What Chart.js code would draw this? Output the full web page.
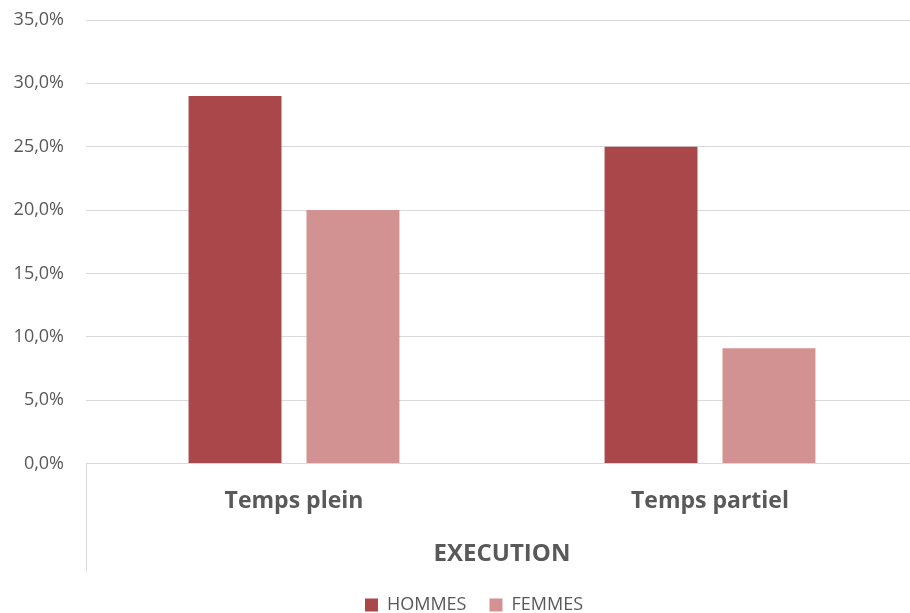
<!DOCTYPE html>
<html>
<head>
<meta charset="utf-8">
<script src="https://cdn.jsdelivr.net/npm/chart.js@4/dist/chart.umd.min.js"></script>
<style>
  html, body { margin: 0; padding: 0; background: #fff; overflow: hidden; }
  .wrap { width: 910px; height: 613px; overflow: hidden; }
  .chart-container { width: 948px; height: 624px; }
</style>
</head>
<body>
<div class="wrap">
  <div class="chart-container">
    <canvas id="chart"></canvas>
  </div>
</div>
<script>
const categories = ['Temps plein', 'Temps partiel'];
const hommes = [29.0, 25.0];
const femmes = [20.0, 9.1];
const groupLabel = 'EXECUTION';
const yMin = 0, yMax = 35, yStep = 5;

const gridColor = '#D9D9D9';
const textColor = '#595959';
const font = '"Open Sans", "Liberation Sans", sans-serif';

// left border of the category axis, below the plot (multi-level axis look)
const axisLeftLine = {
  id: 'axisLeftLine',
  afterDraw(chart) {
    const { ctx, chartArea } = chart;
    ctx.save();
    ctx.strokeStyle = gridColor;
    ctx.lineWidth = 1;
    ctx.beginPath();
    ctx.moveTo(chartArea.left + 0.5, chartArea.bottom);
    ctx.lineTo(chartArea.left + 0.5, chartArea.bottom + 108);
    ctx.stroke();
    ctx.restore();
  }
};

// legend sits centred on the whole (uncropped) chart, not the plot
const legendShift = {
  id: 'legendShift',
  afterLayout(chart) {
    chart.legend.left += 15;
    chart.legend.right += 15;
  }
};

const ctx = document.getElementById('chart').getContext('2d');
new Chart(ctx, {
  type: 'bar',
  data: {
    labels: categories,
    datasets: [
      { label: 'HOMMES', data: hommes, backgroundColor: '#A9474A' },
      { label: 'FEMMES', data: femmes, backgroundColor: '#D39292' }
    ]
  },
  options: {
    responsive: true,
    maintainAspectRatio: false,
    animation: false,
    layout: { padding: { top: 20, right: 30, left: 0, bottom: 0 } },
    datasets: { bar: { categoryPercentage: 0.567, barPercentage: 0.788 } },
    plugins: {
      tooltip: { enabled: false },
      legend: {
        position: 'bottom',
        labels: {
          boxWidth: 13, boxHeight: 13, padding: 23,
          color: textColor,
          font: { family: font, size: 18 }
        }
      }
    },
    scales: {
      y: {
        min: yMin, max: yMax,
        afterFit(scale) { scale.width = 86; },
        border: { display: false },
        grid: { color: gridColor, drawTicks: true, tickLength: 22, tickColor: 'rgba(0,0,0,0)' },
        ticks: {
          stepSize: yStep,
          padding: 0,
          color: textColor,
          font: { family: font, size: 18 },
          callback: v => v.toFixed(1).replace('.', ',') + '%'
        }
      },
      x: {
        border: { color: gridColor },
        grid: { display: false },
        ticks: {
          padding: 16,
          color: textColor,
          font: { family: font, size: 23, weight: 'bold' }
        },
        title: {
          display: true,
          text: groupLabel,
          color: textColor,
          padding: { top: 9, bottom: 4 },
          font: { family: font, size: 24, weight: 'bold' }
        }
      }
    }
  },
  plugins: [axisLeftLine, legendShift]
});
</script>
</body>
</html>
